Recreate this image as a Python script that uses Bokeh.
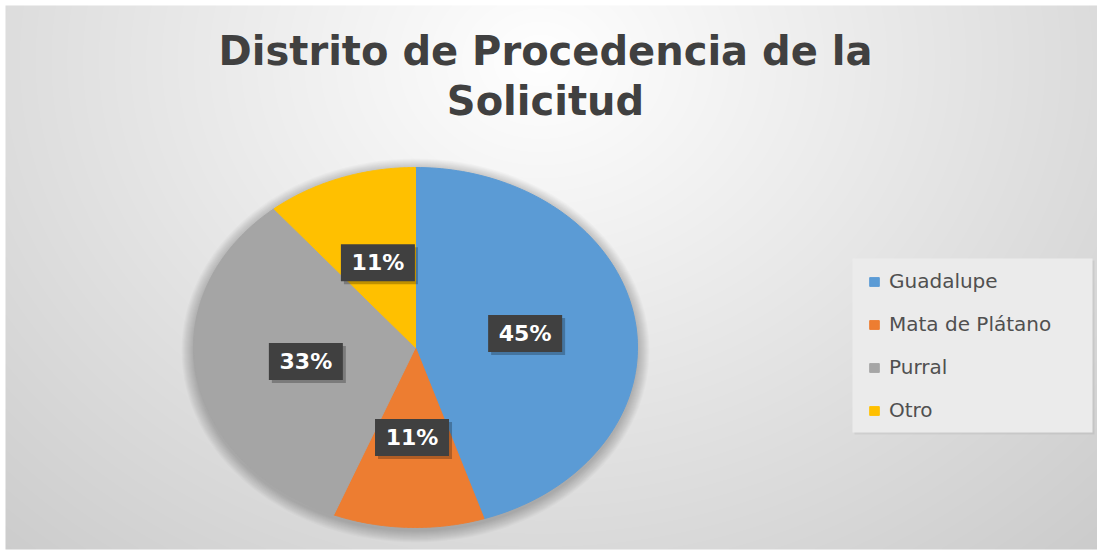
import numpy as np
from bokeh.plotting import figure
from bokeh.models import Range1d, Legend, LegendItem, ColumnDataSource
from bokeh.core.properties import value
from bokeh.embed import file_html
from bokeh.resources import INLINE

# ---- data ----
categories = ["Guadalupe", "Mata de Plátano", "Purral", "Otro"]
percentages = [45, 11, 33, 11]
colors = ["#5B9BD5", "#ED7D31", "#A5A5A5", "#FFC000"]
title_lines = ["Distrito de Procedencia de la", "Solicitud"]

# ---- layout (reference pixel coordinates, y measured from top) ----
W, H = 1097, 552
def fy(Y):
    return H - Y

CX, CY = 415, fy(347)
RX, RY = 222, 180

p = figure(width=W, height=H, x_range=Range1d(0, W), y_range=Range1d(0, H),
           output_backend="svg", toolbar_location=None, min_border=0)
p.axis.visible = False
p.grid.visible = False
p.outline_line_color = None
p.background_fill_color = "white"
p.border_fill_color = "white"

# ---- background gradient (chart area starts 5px in) ----
BX0, BY0, BY1 = 5, 5, 549
bw, bh = W - BX0, BY1 - BY0
Xs = (np.arange(bw) + BX0 + 0.5)[None, :]
Ys = (BY1 - np.arange(bh) - 0.5)[:, None]
d = np.sqrt(((Xs - 540) / 600.0) ** 2 + ((Ys - 60) / 500.0) ** 2)
g = np.clip(255 - 38 * d, 190, 255).astype(np.uint32)
img = (255 << 24) | (g << 16) | (g << 8) | g
p.image_rgba(image=[img.astype(np.uint32)], x=BX0, y=fy(BY1), dw=bw, dh=bh)

# ---- title ----
p.text(x=[545, 545], y=[fy(50), fy(100)], text=title_lines,
       text_font=value("DejaVu Sans"), text_font_style="bold", text_font_size="40px",
       text_color="#404040", text_align="center", text_baseline="middle")

# ---- pie shadow ----
for k in range(1, 13):
    p.ellipse(x=CX, y=CY - 3, width=2 * RX + 2 * k, height=2 * RY + 2 * k,
              fill_color="black", fill_alpha=0.018, line_color=None)

# ---- pie slices (clockwise from 12 o'clock) ----
vals = np.array(percentages, dtype=float)
fr = vals / vals.sum()
ends = np.cumsum(fr) * 2 * np.pi
starts = ends - fr * 2 * np.pi
xs, ys = [], []
for a0, a1 in zip(starts, ends):
    t = np.linspace(a0, a1, 120)
    xs.append([CX] + list(CX + RX * np.sin(t)))
    ys.append([CY] + list(CY + RY * np.cos(t)))
src = ColumnDataSource(dict(xs=xs, ys=ys, color=colors, name=categories))
pie = p.patches("xs", "ys", source=src, fill_color="color", line_color="color", line_width=1)

# ---- data labels ----
mids = (starts + ends) / 2
lx = CX + 0.5 * RX * np.sin(mids)
ly = CY + 0.5 * RY * np.cos(mids)
labels = [f"{v}%" for v in percentages]
p.rect(x=lx + 3, y=ly - 3, width=74, height=37, fill_color="black", fill_alpha=0.25, line_color=None)
p.rect(x=lx, y=ly, width=74, height=37, fill_color="#404040", line_color=None)
p.text(x=lx, y=ly, text=labels, text_font=value("DejaVu Sans"), text_font_style="bold",
       text_font_size="22px", text_color="white", text_align="center", text_baseline="middle")

# ---- legend ----
p.quad(left=854, right=1094, top=fy(260), bottom=fy(434), fill_color="black", fill_alpha=0.06, line_color=None)
p.quad(left=852, right=1092, top=fy(258), bottom=fy(432), fill_color="#ebebeb", line_color=None)
items = [LegendItem(label=c, renderers=[pie], index=i) for i, c in enumerate(categories)]
legend = Legend(items=items, location=(868, fy(422)), padding=0, margin=0,
                background_fill_alpha=0, border_line_alpha=0,
                glyph_width=12, glyph_height=11, label_standoff=9,
                label_height=24, spacing=19,
                label_text_font="DejaVu Sans", label_text_font_size="20px",
                label_text_color="#505050")
p.add_layout(legend)

open("out.html", "w").write(file_html(p, INLINE))
